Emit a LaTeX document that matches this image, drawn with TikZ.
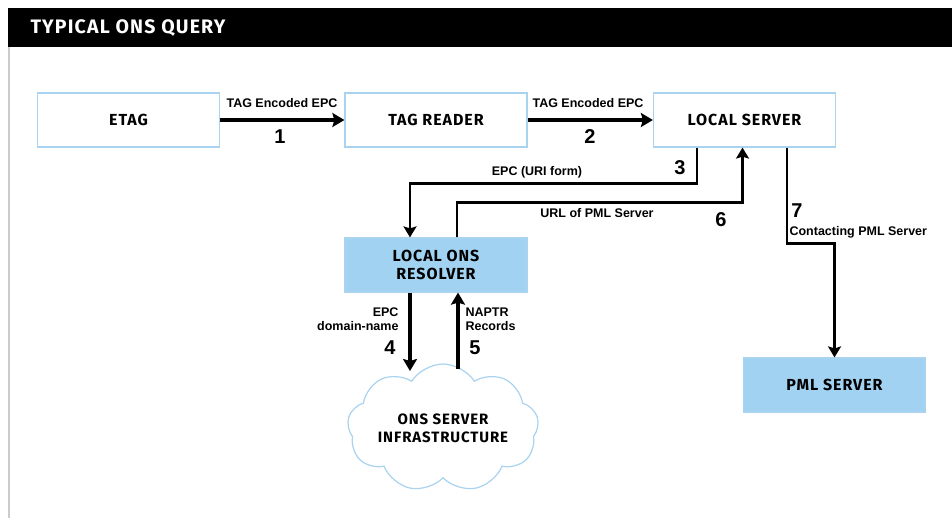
\documentclass[tikz,border=0pt]{standalone}
\usepackage{fontspec}
\setmainfont{Liberation Sans}
\newfontfamily\headfont[LetterSpace=6]{Fira Sans}
\usetikzlibrary{arrows.meta,shapes.symbols}

\definecolor{boxline}{HTML}{A9D3EE}
\definecolor{boxfill}{HTML}{A2D2F2}

\begin{document}
\begin{tikzpicture}[x=1pt,y=-1pt,
  box/.style={draw=boxline,line width=1.2pt,fill=white,minimum width=182pt,minimum height=54pt,
              font=\headfont\bfseries\fontsize{16}{17.5}\selectfont,align=center},
  filledbox/.style={box,fill=boxfill},
  bigarrow/.style={line width=4pt,-{Stealth[length=12pt,width=14pt,inset=2pt]}},
  midarrow/.style={line width=2.6pt,-{Stealth[length=11pt,width=13pt,inset=2pt]}},
  tag/.style={font=\bfseries\fontsize{12.5}{14}\selectfont},
  num/.style={font=\bfseries\fontsize{20}{22}\selectfont}]

\useasboundingbox (0,0) rectangle (952,520);

% header and panel
\fill[black] (8,8) rectangle (952,47);
\node[anchor=west,text=white,font=\headfont\bfseries\fontsize{19.5}{21}\selectfont] (title) at (27,28) {TYPICAL ONS QUERY};
\draw[black!20,line width=1.5pt] (9,47) -- (9,518);

% boxes
\node[box] (etag) at (128.5,120) {ETAG};
\node[box] (reader) at (436,120) {TAG READER};
\node[box] (lserver) at (744.5,120) {LOCAL SERVER};
\node[filledbox] (resolver) at (436,265) {LOCAL ONS\\RESOLVER};
\node[filledbox] (pml) at (834.5,385) {PML SERVER};
\node[cloud,cloud puffs=9,cloud puff arc=115,cloud ignores aspect,draw=boxline,line width=1.2pt,
      fill=white,minimum width=186pt,minimum height=128pt,align=center,
      font=\headfont\bfseries\fontsize{15}{18}\selectfont] (ons) at (443,428) {ONS SERVER\\INFRASTRUCTURE};
\coordinate (onsin) at (410,371);
\coordinate (onsout) at (458,369);

% step 1 and 2
\draw[bigarrow] (etag) -- (reader);
\node[tag] (t1) at (282,103) {TAG Encoded EPC};
\node[num] (n1) at (280,137) {1};

\draw[bigarrow] (reader) -- (lserver);
\node[tag] (t2) at (588,103) {TAG Encoded EPC};
\node[num] (n2) at (590,137) {2};

% step 3
\draw[midarrow] ([xshift=-47.5pt]lserver.south) -- ++(0,36) -| ([xshift=-26pt]resolver.north);
\node[tag] (t3) at (537,172) {EPC (URI form)};
\node[num] (n3) at (680,168) {3};

% step 4 and 5
\draw[bigarrow] ([xshift=-26pt]resolver.south) -- (onsin);
\node[tag,align=right,anchor=east] (t4) at (402,319) {EPC\\domain-name};
\node[num] (n4) at (390,348) {4};

\draw[bigarrow] (onsout) -- ([xshift=22pt]resolver.south);
\node[tag,align=left,anchor=west] (t5) at (462,319) {NAPTR\\Records};
\node[num] (n5) at (475,348) {5};

% step 6
\draw[midarrow] ([xshift=21pt]resolver.north) -- ++(0,-35) -| ([xshift=-2pt]lserver.south);
\node[tag] (t6) at (597,213) {URL of PML Server};
\node[num] (n6) at (721,220) {6};

% step 7
\draw[midarrow] ([xshift=42.5pt]lserver.south) -- ++(0,96) -| (pml.north);
\node[num] (n7) at (797,211) {7};
\node[tag,anchor=west] (t7) at (786,232) {Contacting PML Server};

\end{tikzpicture}
\end{document}
